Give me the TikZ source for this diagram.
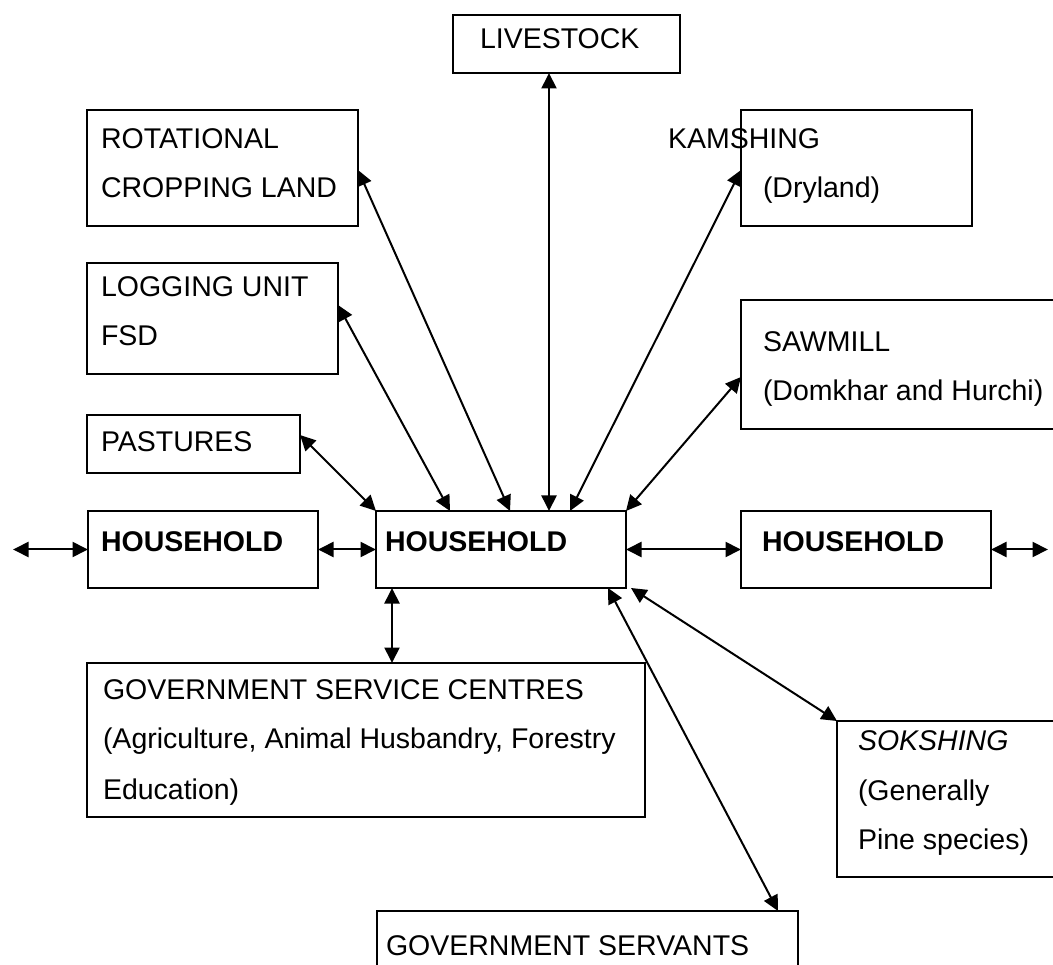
\documentclass[tikz,border=0pt]{standalone}
\usepackage{fontspec}
\setmainfont{Liberation Sans}
\usetikzlibrary{arrows.meta}
\begin{document}
\begin{tikzpicture}[x=1pt,y=-1pt,
  box/.style={draw, line width=2pt, inner sep=0pt, outer sep=0pt, anchor=north west},
  lbl/.style={anchor=base west, inner sep=0pt, outer sep=0pt, font=\fontsize{28.5}{34}\selectfont},
  lblb/.style={lbl, font=\fontsize{28.5}{34}\selectfont\bfseries},
  link/.style={line width=2pt, {Triangle[length=15.5pt,width=15pt]}-{Triangle[length=15.5pt,width=15pt]}},
]
\path[use as bounding box] (0,0) rectangle (1053,965);
\clip (0,0) rectangle (1053,965);

% ---- boxes ----
\node[box, minimum width=227pt, minimum height=58pt]  (live) at (453,15)  {};
\node[box, minimum width=271pt, minimum height=116pt] (rot)  at (87,110)  {};
\node[box, minimum width=251pt, minimum height=111pt] (log)  at (87,263)  {};
\node[box, minimum width=213pt, minimum height=58pt]  (past) at (87,415)  {};
\node[box, minimum width=231pt, minimum height=116pt] (kam)  at (741,110) {};
\node[box, minimum width=350pt, minimum height=129pt] (saw)  at (741,300) {};
\node[box, minimum width=230pt, minimum height=77pt]  (hhl)  at (88,511)  {};
\node[box, minimum width=250pt, minimum height=77pt]  (hh)   at (376,511) {};
\node[box, minimum width=250pt, minimum height=77pt]  (hhr)  at (741,511) {};
\node[box, minimum width=558pt, minimum height=154pt] (gsc)  at (87,663)  {};
\node[box, minimum width=300pt, minimum height=156pt] (sok)  at (837,721) {};
\node[box, minimum width=421pt, minimum height=100pt] (gsv)  at (377,911) {};

% ---- texts ----
\node[lbl] (live-t)  at (480,49)  {LIVESTOCK};
\node[lbl] (rot-t1)  at (101,149) {ROTATIONAL};
\node[lbl] (rot-t2)  at (101,198) {CROPPING LAND};
\node[lbl] (log-t1)  at (101,297) {LOGGING UNIT};
\node[lbl] (log-t2)  at (101,346) {FSD};
\node[lbl] (past-t)  at (101,452) {PASTURES};
\node[lbl] (kam-t1)  at (668,149) {KAMSHING};
\node[lbl] (kam-t2)  at (763,198) {(Dryland)};
\node[lbl] (saw-t1)  at (763,352) {SAWMILL};
\node[lbl] (saw-t2)  at (763,401) {(Domkhar and Hurchi)};
\node[lblb] (hhl-t)  at (101,551) {HOUSEHOLD};
\node[lblb] (hh-t)   at (385,551) {HOUSEHOLD};
\node[lblb] (hhr-t)  at (762,551) {HOUSEHOLD};
\node[lbl] (gsc-t1)  at (103,699) {GOVERNMENT SERVICE CENTRES};
\node[lbl] (gsc-t2)  at (103,748) {(Agriculture, Animal Husbandry, Forestry};
\node[lbl] (gsc-t3)  at (103,799) {Education)};
\node[lbl] (sok-t1)  at (858,750) {\itshape SOKSHING};
\node[lbl] (sok-t2)  at (858,800) {(Generally};
\node[lbl] (sok-t3)  at (858,849) {Pine species)};
\node[lbl] (gsv-t)   at (386,955) {GOVERNMENT SERVANTS};

% ---- free ends of the outer household links ----
\coordinate (lx) at (13,549.5);
\coordinate (rx) at (1048,549.5);

% ---- connectors ----
\draw[link] ([xshift=96pt]live.south west) -- ([xshift=173pt]hh.north west);
\draw[link] ([yshift=-60pt]rot.north east) -- ([xshift=134pt]hh.north west);
\draw[link] ([yshift=-42pt]log.north east) -- ([xshift=74pt]hh.north west);
\draw[link] ([yshift=-20pt]past.north east) -- (hh.north west);
\draw[link] ([yshift=-60pt]kam.north west) -- ([xshift=194pt]hh.north west);
\draw[link] ([yshift=-77pt]saw.north west) -- (hh.north east);
\draw[link] (lx) -- (hhl.west);
\draw[link] (hhl.east) -- (hh.west);
\draw[link] (hh.east) -- (hhr.west);
\draw[link] (hhr.east) -- (rx);
\draw[link] ([xshift=16pt]hh.south west) -- ([xshift=305pt]gsc.north west);
\draw[link] ([xshift=5pt]hh.south east) -- (sok.north west);
\draw[link] ([xshift=-18pt]hh.south east) -- ([xshift=401pt]gsv.north west);
\end{tikzpicture}
\end{document}
